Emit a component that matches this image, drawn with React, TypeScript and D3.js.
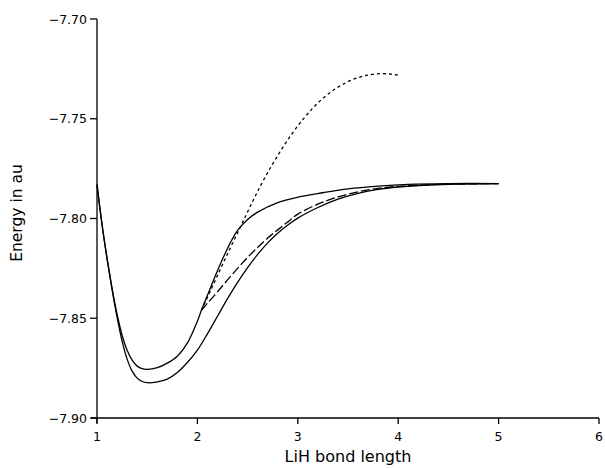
import React from "react";
import * as d3 from "d3";

const xTicks = [1, 2, 3, 4, 5, 6];
const yTicks = [-7.9, -7.85, -7.8, -7.75, -7.7];
const yTickLabels = ["−7.90", "−7.85", "−7.80", "−7.75", "−7.70"];

// lower solid curve
const lowerX = [1.0, 1.05, 1.1, 1.15, 1.2, 1.25, 1.3, 1.35, 1.4, 1.45, 1.5, 1.55, 1.6, 1.7, 1.8, 1.9, 2.0, 2.1, 2.2, 2.3, 2.4, 2.5, 2.6, 2.7, 2.8, 2.9, 3.0, 3.2, 3.4, 3.6, 3.8, 4.0, 4.3, 4.6, 5.0];
const lowerY = [-7.783, -7.803, -7.82, -7.8355, -7.8495, -7.8615, -7.8705, -7.8765, -7.88, -7.8817, -7.8823, -7.8823, -7.8819, -7.8805, -7.8772, -7.8722, -7.866, -7.8578, -7.849, -7.8402, -7.832, -7.8246, -7.818, -7.8122, -7.8074, -7.8033, -7.7998, -7.7945, -7.7903, -7.7874, -7.7854, -7.7842, -7.7832, -7.7827, -7.7825];

// upper solid curve
const upperX = [1.0, 1.05, 1.1, 1.15, 1.2, 1.25, 1.3, 1.35, 1.4, 1.45, 1.5, 1.6, 1.7, 1.8, 1.9, 2.0, 2.04, 2.1, 2.2, 2.3, 2.4, 2.5, 2.6, 2.8, 3.0, 3.25, 3.5, 3.8, 4.1, 4.5, 5.0];
const upperY = [-7.783, -7.803, -7.82, -7.835, -7.848, -7.8585, -7.866, -7.871, -7.874, -7.8753, -7.8756, -7.8748, -7.8725, -7.869, -7.8625, -7.8515, -7.846, -7.8385, -7.8262, -7.815, -7.806, -7.8005, -7.7968, -7.792, -7.7893, -7.7871, -7.7852, -7.7838, -7.7829, -7.7825, -7.7825];

// long-dashed curve
const dashedX = [2.04, 2.1, 2.2, 2.3, 2.4, 2.5, 2.6, 2.7, 2.8, 2.9, 3.0, 3.2, 3.4, 3.6, 3.8, 4.0, 4.3, 4.6, 5.0];
const dashedY = [-7.846, -7.8425, -7.8368, -7.8308, -7.825, -7.8195, -7.8145, -7.8098, -7.8057, -7.8017, -7.7978, -7.7928, -7.7892, -7.7866, -7.7849, -7.7839, -7.7831, -7.7827, -7.7825];

// dotted curve
const dottedX = [2.04, 2.14, 2.24, 2.34, 2.44, 2.54, 2.64, 2.74, 2.84, 2.94, 3.04, 3.14, 3.24, 3.34, 3.44, 3.54, 3.64, 3.74, 3.84, 3.94, 4.01];
const dottedY = [-7.846, -7.8352, -7.8242, -7.8135, -7.803, -7.7925, -7.7825, -7.7735, -7.7652, -7.7577, -7.751, -7.7452, -7.7402, -7.7362, -7.733, -7.7305, -7.7288, -7.7278, -7.7274, -7.7277, -7.7282];

const W = 605;
const H = 468;
const FONT = "DejaVu Sans, sans-serif";

export default function App() {
  const x = d3.scaleLinear().domain([1, 6]).range([97, 599]);
  const y = d3.scaleLinear().domain([-7.9, -7.7]).range([418, 19]);

  const mk = (xs: number[], ys: number[]) =>
    d3
      .line<number>()
      .x((_, i) => x(xs[i]))
      .y((_, i) => y(ys[i]))
      .curve(d3.curveCatmullRom.alpha(0.5))(xs) as string;

  const x0 = x(1);
  const y0 = y(-7.9);

  return (
    <svg
      width={W}
      height={H}
      style={{ position: "absolute", left: 0, top: 0, background: "#fff" }}
    >
      <rect x={0} y={0} width={W} height={H} fill="#fff" />
      {/* axes */}
      <g stroke="#000" strokeWidth={1.3} fill="none">
        <line x1={x0} x2={x0} y1={y(-7.7)} y2={y0 + 5} />
        <line x1={x0 - 6} x2={x(6)} y1={y0} y2={y0} />
        {yTicks.map((t) => (
          <line key={"yt" + t} x1={x0 - 7} x2={x0} y1={y(t)} y2={y(t)} />
        ))}
        {xTicks.map((t) => (
          <line key={"xt" + t} x1={x(t)} x2={x(t)} y1={y0} y2={y0 + 6} />
        ))}
      </g>
      <g fontFamily={FONT} fontSize={12.5} fill="#000">
        {yTicks.map((t, i) => (
          <text key={"yl" + t} x={x0 - 10} y={y(t) + 4.5} textAnchor="end">
            {yTickLabels[i]}
          </text>
        ))}
        {xTicks.map((t) => (
          <text key={"xl" + t} x={x(t)} y={441} textAnchor="middle">
            {t}
          </text>
        ))}
      </g>
      <text
        x={348}
        y={462}
        textAnchor="middle"
        fontFamily={FONT}
        fontSize={16}
        fill="#000"
      >
        LiH bond length
      </text>
      <text
        transform={`translate(22,${213}) rotate(-90)`}
        textAnchor="middle"
        fontFamily={FONT}
        fontSize={15.5}
        fill="#000"
      >
        Energy in au
      </text>
      {/* curves */}
      <g fill="none" stroke="#000" strokeWidth={1.3}>
        <path d={mk(lowerX, lowerY)} />
        <path d={mk(upperX, upperY)} />
        <path d={mk(dashedX, dashedY)} strokeDasharray="9,3" />
        <path d={mk(dottedX, dottedY)} strokeDasharray="3,3" />
      </g>
    </svg>
  );
}
